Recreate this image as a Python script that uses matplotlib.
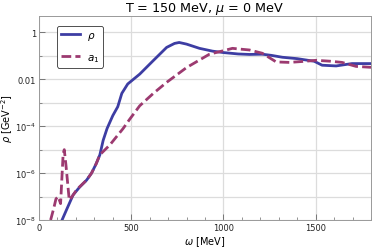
import matplotlib
matplotlib.use("Agg")
import matplotlib.pyplot as plt
from matplotlib.ticker import MultipleLocator, FixedLocator
import numpy as np

# rho spectral function, omega [MeV] vs log10(rho [GeV^-2])
w_rho = [125, 150, 185, 220, 258, 285, 310, 330, 348, 369, 400, 427, 449, 481,
         546, 616, 692, 735, 760, 800, 870, 941, 1000, 1080, 1141, 1211, 1260,
         1319, 1400, 1492, 1535, 1611, 1697, 1800]
lg_rho = [-8.0, -7.55, -6.93, -6.6, -6.3, -6.0, -5.6, -5.22, -4.6, -4.1, -3.55,
          -3.17, -2.6, -2.2, -1.78, -1.23, -0.64, -0.47, -0.43, -0.5, -0.68, -0.8,
          -0.86, -0.92, -0.94, -0.93, -0.98, -1.06, -1.12, -1.23, -1.4, -1.43,
          -1.33, -1.33]

# a1 spectral function
w_a1 = [63, 80, 92, 104, 117, 131, 137, 146, 164, 175, 205, 258, 285, 310, 330,
        384, 456, 492, 546, 620, 692, 800, 924, 1000, 1049, 1100, 1141, 1211,
        1286, 1357, 1430, 1503, 1580, 1643, 1719, 1800]
lg_a1 = [-8.0, -7.5, -7.1, -7.0, -7.3, -5.17, -5.0, -5.65, -7.15, -7.05, -6.7,
         -6.3, -6.0, -5.6, -5.22, -4.8, -4.1, -3.7, -3.13, -2.6, -2.13, -1.5,
         -0.93, -0.78, -0.68, -0.72, -0.75, -0.89, -1.26, -1.28, -1.24, -1.19,
         -1.23, -1.28, -1.45, -1.49]

rho = 10.0 ** np.array(lg_rho)
a1 = 10.0 ** np.array(lg_a1)

plt.rcParams['font.family'] = 'DejaVu Sans'
plt.rcParams['mathtext.fontset'] = 'dejavusans'

fig = plt.figure(figsize=(3.74, 2.53), dpi=100)
ax = fig.add_axes([39/374, 1 - 221/253, 332/374, 204/253])

ax.semilogy(w_rho, rho, color='#3d3da3', lw=2.0, label=r'$\rho$', zorder=3)
ax.semilogy(w_a1, a1, color='#9c3a70', lw=2.0, ls=(0, (3.5, 1.5)),
            label=r'$a_1$', zorder=3)

ax.set_xlim(0, 1800)
ax.set_ylim(1e-8, 5)

ax.xaxis.set_major_locator(MultipleLocator(500))
ax.xaxis.set_minor_locator(MultipleLocator(100))
ax.yaxis.set_major_locator(FixedLocator([1e-8, 1e-6, 1e-4, 1e-2, 1]))
ax.yaxis.set_minor_locator(FixedLocator([1e-7, 1e-5, 1e-3, 1e-1]))
ax.set_yticklabels([r'$10^{-8}$', r'$10^{-6}$', r'$10^{-4}$', '0.01', '1'])
ax.yaxis.set_minor_formatter(plt.NullFormatter())

ax.grid(True, which='major', color='#dcdcdc', lw=0.9, zorder=0)
ax.grid(True, which='minor', axis='y', color='#dcdcdc', lw=0.9, zorder=0)
ax.tick_params(which='both', direction='in', colors='#666666', labelsize=6,
               labelcolor='#222222', pad=2)
ax.tick_params(which='major', length=4, width=0.6)
ax.tick_params(which='minor', length=2, width=0.5)
for s in ax.spines.values():
    s.set_color('#999999')
    s.set_linewidth(0.7)

ax.set_title(r'T = 150 MeV, $\mu$ = 0 MeV', fontsize=9.2, pad=3)
ax.set_xlabel(r'$\omega$ [MeV]', fontsize=7, labelpad=2)
ax.set_ylabel(r'$\rho$ [GeV$^{-2}$]', fontsize=7, labelpad=0)

leg = ax.legend(loc='upper left', bbox_to_anchor=(0.054, 0.951), fontsize=7.5,
                handlelength=1.9, handletextpad=0.6, framealpha=1,
                edgecolor='#333333', fancybox=True, borderpad=0.35,
                labelspacing=1.0, borderaxespad=0)
leg.get_frame().set_linewidth(0.6)

fig.savefig('out.png', dpi=100)
